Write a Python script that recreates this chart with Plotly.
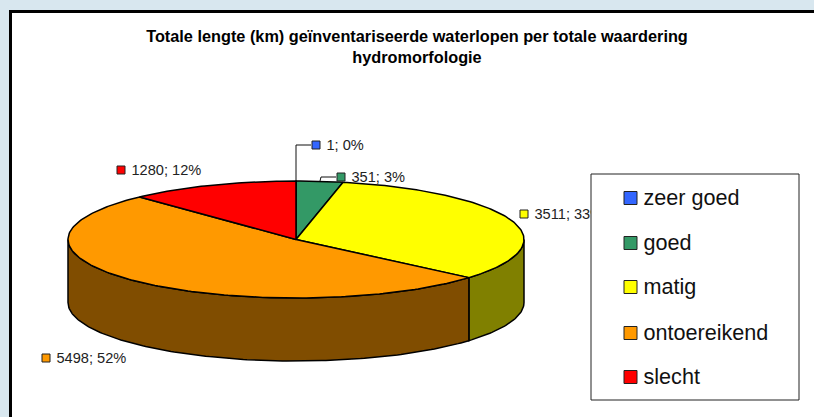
import math
import plotly.graph_objects as go

categories = ["zeer goed", "goed", "matig", "ontoereikend", "slecht"]
lengths_km = [1, 351, 3511, 5498, 1280]
percent_labels = [0, 3, 33, 52, 12]
top_colors = ["#3366FF", "#339966", "#FFFF00", "#FF9900", "#FF0000"]
side_colors = ["#1A3380", "#1A4D33", "#808000", "#804D00", "#800000"]
title_lines = ["Totale lengte (km) geïnventariseerde waterlopen per totale waardering", "hydromorfologie"]

W, H = 814, 417
CX, CY, RX, RY, DEPTH = 296, 239.5, 228, 58.5, 63
label_anchor_x = [316, 341, 524, 46, 121]
label_anchor_y = [145, 177, 214, 358, 170]
label_text_gap = 10.5
leader_x = [[296, 296, 311], [320, 321, 336]]
leader_y = [[181, 145, 145], [181, 177, 177]]
legend_box = (591, 174, 799, 400)
legend_x = 630.5
legend_text_gap = 13
legend_y = [198, 243, 287, 333, 377]


def ell(deg, dy=0.0):
    t = math.radians(deg)
    return CX + RX * math.sin(t), CY - RY * math.cos(t) + dy


def arc(a, b, dy=0.0):
    n = max(2, int(abs(b - a)) + 2)
    return [ell(a + (b - a) * i / (n - 1), dy) for i in range(n)]


total = sum(lengths_km)
spans = []
acc = 0.0
for v in lengths_km:
    spans.append((acc, acc + 360 * v / total))
    acc += 360 * v / total

fig = go.Figure()

# visible outer wall of the pie
for (a, b), col in zip(spans, side_colors):
    lo, hi = max(a, 90), min(b, 270)
    if hi <= lo:
        continue
    pts = arc(lo, hi) + arc(hi, lo, DEPTH)
    pts.append(pts[0])
    fig.add_trace(go.Scatter(x=[p[0] for p in pts], y=[p[1] for p in pts], mode="lines", fill="toself",
                             fillcolor=col, line=dict(color="#000", width=1.5), hoverinfo="skip"))

# top face wedges
for (a, b), col, name in zip(spans, top_colors, categories):
    pts = [(CX, CY)] + arc(a, b) + [(CX, CY)]
    fig.add_trace(go.Scatter(x=[p[0] for p in pts], y=[p[1] for p in pts], mode="lines", fill="toself",
                             fillcolor=col, line=dict(color="#000", width=1.5), name=name))

# leader lines
for lx, ly in zip(leader_x, leader_y):
    fig.add_trace(go.Scatter(x=lx, y=ly, mode="lines", line=dict(color="#111", width=1), hoverinfo="skip"))

# data labels
fig.add_trace(go.Scatter(
    x=label_anchor_x, y=label_anchor_y, mode="markers",
    marker=dict(symbol="square", size=8, color=top_colors, line=dict(color="#222", width=1)),
    hoverinfo="skip"))
fig.add_trace(go.Scatter(
    x=[x + label_text_gap for x in label_anchor_x], y=[y + 1 for y in label_anchor_y], mode="text",
    text=[f"{v}; {p}%" for v, p in zip(lengths_km, percent_labels)],
    textposition="middle right",
    textfont=dict(family="Liberation Sans", size=14.6, color="#222"),
    hoverinfo="skip"))

# legend box (covers the end of the matig label, as in the original)
x0, y0, x1, y1 = legend_box
fig.add_trace(go.Scatter(x=[x0, x1, x1, x0, x0], y=[y0, y0, y1, y1, y0], mode="lines", fill="toself",
                         fillcolor="#fff", line=dict(color="#222", width=1), hoverinfo="skip"))
fig.add_trace(go.Scatter(
    x=[legend_x] * len(categories), y=legend_y, mode="markers",
    marker=dict(symbol="square", size=13, color=top_colors, line=dict(color="#222", width=1)),
    hoverinfo="skip"))
fig.add_trace(go.Scatter(
    x=[legend_x + legend_text_gap] * len(categories), y=[y + 2 for y in legend_y], mode="text",
    text=categories, textposition="middle right",
    textfont=dict(family="Liberation Sans", size=21.6, color="#111"),
    hoverinfo="skip"))

fig.update_layout(
    width=W, height=H, margin=dict(l=0, r=0, t=0, b=0),
    paper_bgcolor="#d8e7ef", plot_bgcolor="rgba(0,0,0,0)", showlegend=False,
    xaxis=dict(range=[0, W], visible=False, fixedrange=True),
    yaxis=dict(range=[H, 0], visible=False, fixedrange=True),
    shapes=[dict(type="rect", xref="x", yref="y", x0=10.5, y0=11.5, x1=W + 20, y1=H + 20,
                 fillcolor="#fff", line=dict(color="#000", width=3), layer="below")],
    title=dict(
        text="<br>".join(title_lines),
        font=dict(family="Liberation Sans", size=16.3, color="#000", weight="bold"),
        x=417 / W, xanchor="center", y=1 - 42 / H, yanchor="top"),
)
fig.write_html("out.html", config={"displayModeBar": False},
               post_script="document.body.style.margin='0';document.body.style.overflow='hidden';")
